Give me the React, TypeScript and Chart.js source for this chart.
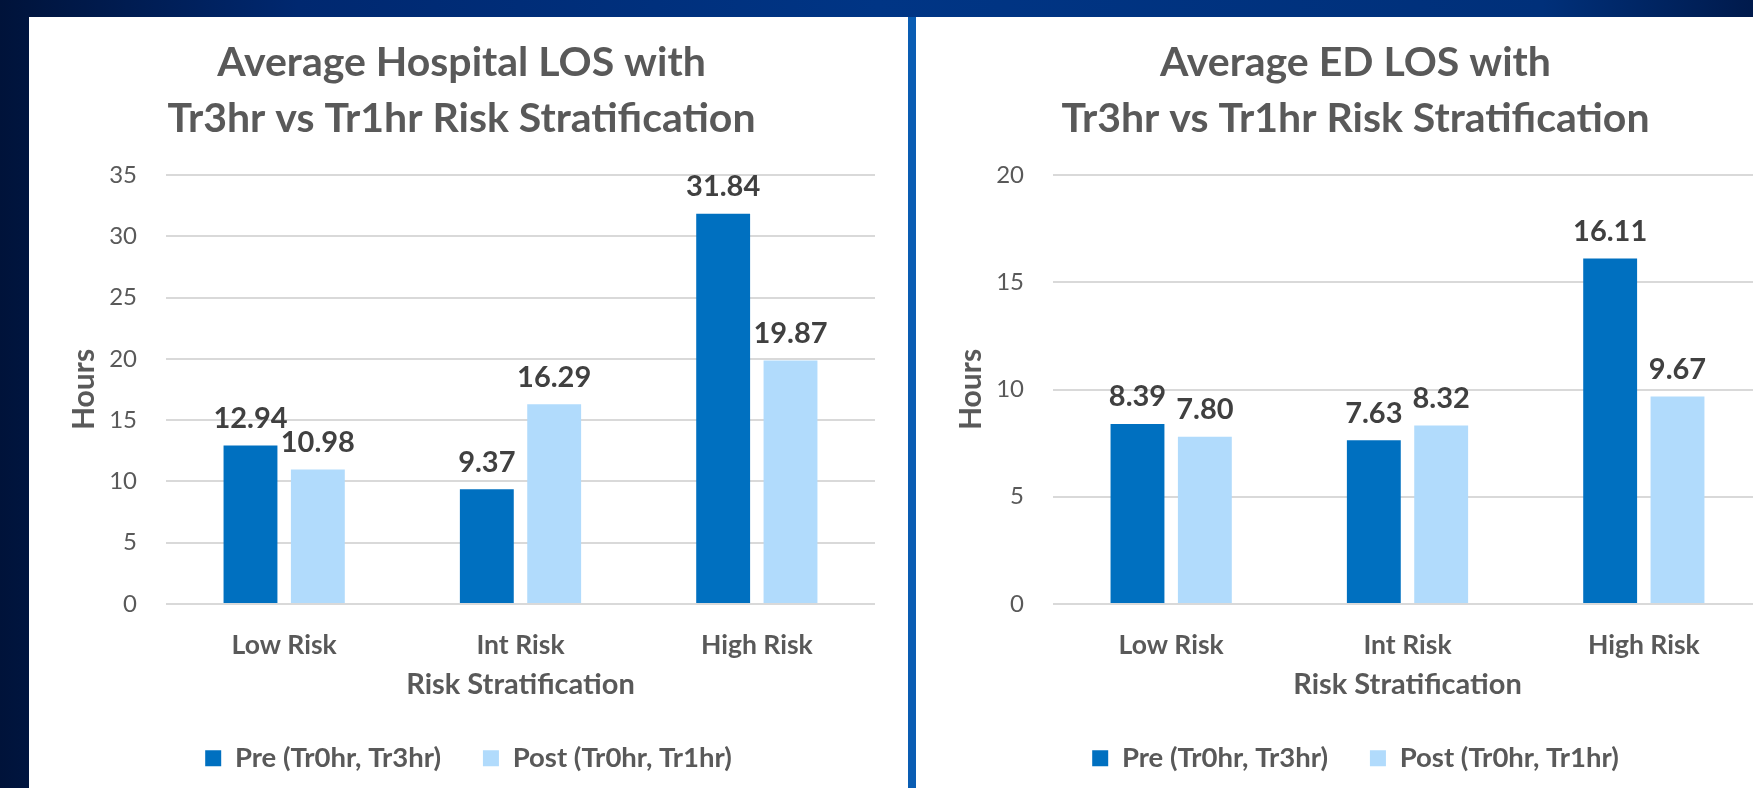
import React, { useEffect, useRef } from 'react';
import { Chart, registerables } from 'chart.js';

Chart.register(...registerables);

// ---- data ----
const categories = ['Low Risk', 'Int Risk', 'High Risk'];
const seriesNames = ['Pre (Tr0hr, Tr3hr)', 'Post (Tr0hr, Tr1hr)'];
const hospitalPre = [12.94, 9.37, 31.84];
const hospitalPost = [10.98, 16.29, 19.87];
const edPre = [8.39, 7.63, 16.11];
const edPost = [7.8, 8.32, 9.67];
const hospitalTitle = ['Average Hospital LOS with', 'Tr3hr vs Tr1hr Risk Stratification'];
const edTitle = ['Average ED LOS with', 'Tr3hr vs Tr1hr Risk Stratification'];
const hospitalMax = 35;
const edMax = 20;
const tickStep = 5;
const yAxisTitle = 'Hours';
const xAxisTitle = 'Risk Stratification';

// ---- styles ----
const DARK = '#0070C0';
const LIGHT = '#B1DBFC';
const GRAY = '#595959';
const LABEL = '#404040';
const FONT = 'Lato, "Open Sans", sans-serif';

const valueLabels = {
  id: 'valueLabels',
  afterDatasetsDraw(chart: any) {
    const ctx = chart.ctx;
    ctx.save();
    ctx.font = `bold 29px ${FONT}`;
    ctx.fillStyle = LABEL;
    ctx.textAlign = 'center';
    ctx.textBaseline = 'middle';
    chart.data.datasets.forEach((ds: any, i: number) => {
      const meta = chart.getDatasetMeta(i);
      meta.data.forEach((el: any, j: number) => {
        const v = ds.data[j];
        ctx.fillText(Number(v).toFixed(2), el.x, el.y - 27);
      });
    });
    ctx.restore();
  },
};

// legend: compact box for layout, wide spacing between items; title offset
function makeBoxTweaks(titleShift: number) {
  return {
    id: 'boxTweaks',
    afterInit(chart: any) {
      const lg = chart.legend;
      if (lg) {
        const origFit = lg.fit;
        lg.fit = function () {
          origFit.call(this);
          this.height = 45;
        };
        const origDraw = lg.draw;
        lg.draw = function () {
          const b = this.bottom;
          const h = this.height;
          this.height = 112;
          this.bottom = this.top + 112;
          origDraw.call(this);
          this.height = h;
          this.bottom = b;
        };
      }
      const tb = chart.titleBlock;
      if (tb && titleShift) {
        const origTitleDraw = tb.draw;
        tb.draw = function () {
          this.ctx.save();
          this.ctx.translate(titleShift, 0);
          origTitleDraw.call(this);
          this.ctx.restore();
        };
      }
    },
  };
}

function BarPanel({
  title,
  pre,
  post,
  max,
  titleShift,
}: {
  title: string[];
  pre: number[];
  post: number[];
  max: number;
  titleShift: number;
}) {
  const ref = useRef<HTMLCanvasElement>(null);
  useEffect(() => {
    if (!ref.current) return;
    const chart = new Chart(ref.current, {
      type: 'bar',
      data: {
        labels: categories,
        datasets: [
          { label: seriesNames[0], data: pre, backgroundColor: DARK, borderWidth: 0, yAxisID: 'y' },
          { label: seriesNames[1], data: post, backgroundColor: LIGHT, borderWidth: 0, yAxisID: 'y' },
        ],
      },
      options: {
        animation: false,
        responsive: false,
        devicePixelRatio: 1,
        datasets: { bar: { barPercentage: 0.8, categoryPercentage: 0.57 } },
        layout: { padding: { top: 0, left: 0, right: 0, bottom: 40.5 } },
        plugins: {
          title: {
            display: true,
            text: title,
            color: GRAY,
            font: { family: FONT, size: 41, weight: 'bold', lineHeight: 56 / 41 },
            padding: { top: 18, bottom: 28 },
          },
          legend: {
            position: 'bottom',
            labels: {
              boxWidth: 16,
              boxHeight: 16,
              padding: 42,
              color: GRAY,
              font: { family: FONT, size: 27.5, weight: 'bold' },
            },
          },
          tooltip: { enabled: false },
        },
        scales: {
          x: {
            grid: { display: false },
            border: { display: false },
            ticks: { color: GRAY, font: { family: FONT, size: 26.5, weight: 'bold' }, padding: 18 },
            title: {
              display: true,
              text: xAxisTitle,
              color: GRAY,
              font: { family: FONT, size: 29, weight: 'bold' },
              padding: { top: 21, bottom: 0 },
            },
            afterFit: (s: any) => {
              s.height = 98.5;
            },
          },
          y: {
            min: 0,
            max,
            ticks: { stepSize: tickStep, padding: 29, color: GRAY, font: { family: FONT, size: 24 } },
            grid: { color: '#d9d9d9', lineWidth: 2, drawTicks: false },
            border: { display: false },
            title: {
              display: true,
              text: yAxisTitle,
              color: GRAY,
              font: { family: FONT, size: 30, weight: 'bold' },
              padding: { top: 37, bottom: 10 },
            },
            afterFit: (s: any) => {
              s.width = 137;
            },
          },
          yRight: {
            position: 'right',
            display: true,
            grid: { display: false },
            border: { display: false },
            ticks: { display: false },
            afterFit: (s: any) => {
              s.width = 33;
            },
          },
        },
      } as any,
      plugins: [valueLabels, makeBoxTweaks(titleShift)],
    });
    return () => chart.destroy();
  }, []);
  return <canvas ref={ref} width={879} height={771} style={{ display: 'block' }} />;
}

export default function App() {
  return (
    <div
      style={{
        position: 'fixed',
        left: 0,
        top: 0,
        width: 1753,
        height: 788,
        overflow: 'hidden',
        background:
          'linear-gradient(90deg, #00133a 0%, #002870 17%, #003585 50%, #00307a 88%, #001a4c 100%)',
      }}
    >
      <div style={{ position: 'absolute', left: 29, top: 17, width: 879, height: 771, background: '#fff' }}>
        <BarPanel title={hospitalTitle} pre={hospitalPre} post={hospitalPost} max={hospitalMax} titleShift={-7} />
      </div>
      <div style={{ position: 'absolute', left: 908, top: 17, width: 8, height: 771, background: '#0a5db3' }} />
      <div style={{ position: 'absolute', left: 916, top: 17, width: 879, height: 771, background: '#fff' }}>
        <BarPanel title={edTitle} pre={edPre} post={edPost} max={edMax} titleShift={0} />
      </div>
    </div>
  );
}
